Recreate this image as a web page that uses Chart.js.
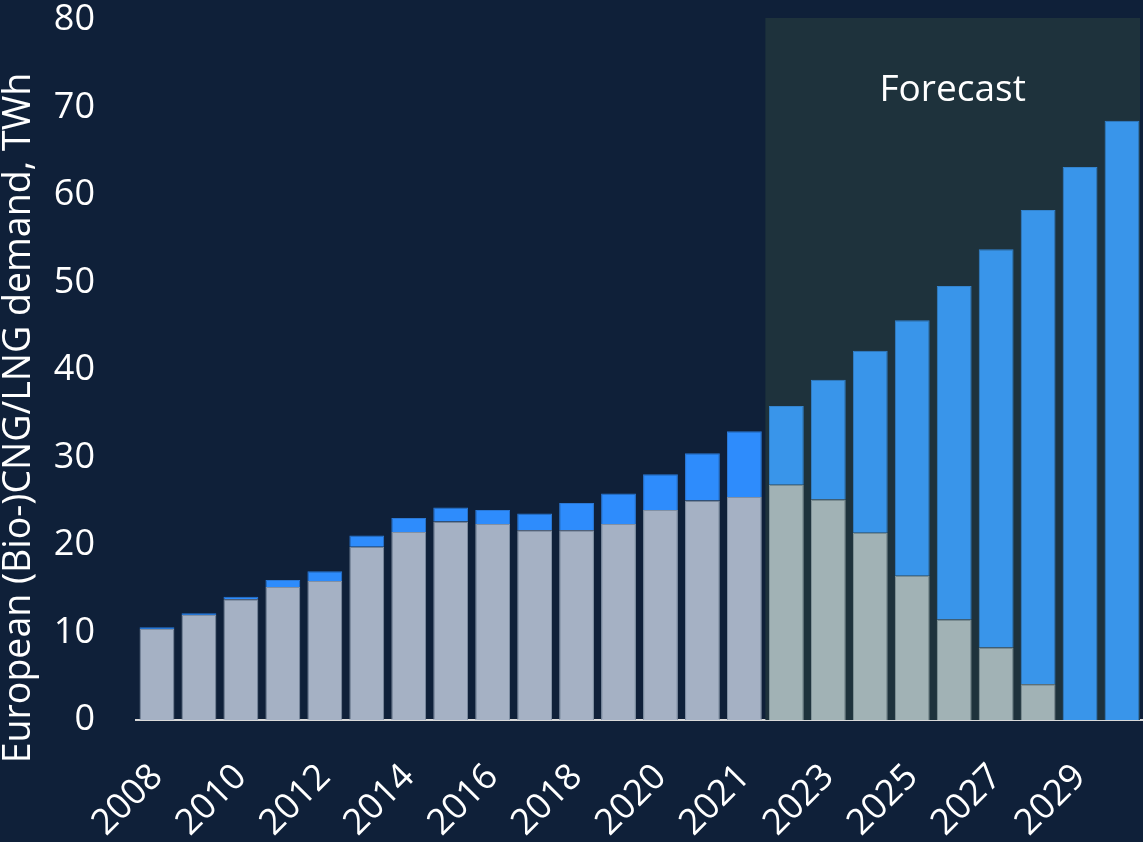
<!DOCTYPE html>
<html>
<head>
<meta charset="utf-8">
<script src="https://cdn.jsdelivr.net/npm/chart.js@4.4.1/dist/chart.umd.min.js"></script>
<style>
  html, body { margin: 0; padding: 0; background: #0f2039; }
  #wrap { width: 1143px; height: 842px; position: relative; }
</style>
</head>
<body>
<div id="wrap"><canvas id="demand-chart"></canvas></div>
<script>
// categories (only every other one is printed on the axis)
const years = ['2008', '2009', '2010', '2011', '2012', '2013', '2014', '2015', '2016', '2017',
               '2018', '2019', '2020', '2020', '2021', '2022', '2023', '2024', '2025', '2026',
               '2027', '2028', '2029', '2030'];

// grey part of each bar (TWh)
const fossilDemand = [10.4, 12.0, 13.8, 15.2, 15.9, 19.8, 21.5, 22.7, 22.4, 21.7,
                      21.7, 22.4, 24.0, 25.1, 25.5, 26.9, 25.2, 21.4, 16.5, 11.5,
                      8.3, 4.1, 0, 0];

// blue part stacked on top (TWh)
const bioDemand = [0.2, 0.2, 0.3, 0.8, 1.1, 1.3, 1.6, 1.6, 1.6, 1.9,
                   3.1, 3.5, 4.1, 5.4, 7.5, 9.0, 13.7, 20.8, 29.2, 38.1,
                   45.5, 54.2, 63.2, 68.5];

const forecastFrom = 15;   // first forecast bar index
const yAxisTitle = 'European (Bio-)CNG/LNG demand, TWh';
const forecastLabel = 'Forecast';

Chart.defaults.font.family = "'Open Sans', 'Noto Sans', sans-serif";
Chart.defaults.color = '#ffffff';

const forecastPanel = {
    id: 'forecastPanel',
    beforeDatasetsDraw(chart) {
        const { ctx, chartArea, scales: { x, y } } = chart;
        const left = x.getPixelForValue(forecastFrom - 0.5);
        const top = y.getPixelForValue(80) - 2;
        ctx.save();
        ctx.fillStyle = '#1e323c';
        ctx.fillRect(left, top, chartArea.right - 3 - left, chartArea.bottom - top);
        ctx.restore();
    },
    afterDatasetsDraw(chart) {
        const { ctx, chartArea, scales: { x, y } } = chart;
        const left = x.getPixelForValue(forecastFrom - 0.5);
        ctx.save();
        ctx.fillStyle = '#ffffff';
        ctx.font = "37px 'Open Sans', 'Noto Sans', sans-serif";
        ctx.textAlign = 'center';
        ctx.textBaseline = 'middle';
        ctx.fillText(forecastLabel, (left + chartArea.right - 3) / 2, y.getPixelForValue(72));
        ctx.restore();

        // y axis title
        ctx.save();
        ctx.translate(19, 418);
        ctx.rotate(-Math.PI / 2);
        ctx.fillStyle = '#ffffff';
        ctx.font = "37.5px 'Open Sans', 'Noto Sans', sans-serif";
        ctx.textAlign = 'center';
        ctx.textBaseline = 'middle';
        ctx.fillText(yAxisTitle, 0, 0);
        ctx.restore();
    }
};

function barColor(histColor, foreColor) {
    return ctx => ctx.dataIndex >= forecastFrom ? foreColor : histColor;
}

new Chart(document.getElementById('demand-chart'), {
    type: 'bar',
    data: {
        labels: years,
        datasets: [{
            label: 'CNG/LNG',
            data: fossilDemand,
            backgroundColor: barColor('#a5b1c4', '#a1b2b5'),
            borderColor: barColor('#8190a4', '#889a9e'),
            borderWidth: 1,
            barPercentage: 0.83,
            categoryPercentage: 1
        }, {
            label: 'Bio-CNG/LNG',
            data: bioDemand,
            backgroundColor: barColor('#2e8cfc', '#3995ea'),
            borderColor: barColor('#2a78d6', '#3384cf'),
            borderWidth: 1,
            barPercentage: 0.83,
            categoryPercentage: 1
        }]
    },
    options: {
        responsive: true,
        maintainAspectRatio: false,
        animation: false,
        layout: { padding: { top: 20, right: 0, bottom: 0, left: 0 } },
        plugins: {
            legend: { display: false },
            tooltip: { enabled: false }
        },
        scales: {
            x: {
                stacked: true,
                grid: { display: false, drawTicks: false },
                border: { display: true, color: '#d9d9d9', width: 2 },
                ticks: {
                    color: '#ffffff',
                    font: { size: 36 },
                    autoSkip: false,
                    minRotation: 45,
                    maxRotation: 45,
                    padding: 36,
                    callback: (val, i) => i % 2 === 0 ? years[i] : null
                },
                afterFit(scale) {
                    scale.height = 122;
                    scale.paddingLeft = 0;
                    scale.paddingRight = 0;
                }
            },
            y: {
                stacked: true,
                min: 0,
                max: 80,
                grid: { display: false, drawTicks: false },
                border: { display: false },
                ticks: {
                    color: '#ffffff',
                    font: { size: 36 },
                    stepSize: 10,
                    padding: 41
                },
                afterFit(scale) {
                    scale.width = 136;
                    scale.paddingTop = 0;
                    scale.paddingBottom = 0;
                }
            }
        }
    },
    plugins: [forecastPanel]
});
</script>
</body>
</html>
